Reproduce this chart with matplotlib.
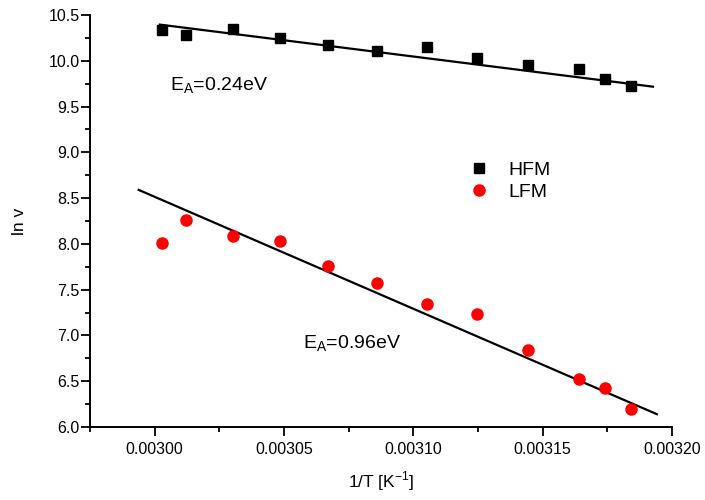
import matplotlib.pyplot as plt
import numpy as np
from matplotlib.ticker import MultipleLocator, FormatStrFormatter

plt.rcParams['font.family'] = ['Liberation Sans', 'DejaVu Sans']

# 1/T values (K^-1), T = 333 ... 314 K
inv_T = [0.0030027, 0.0030120, 0.0030301, 0.0030486, 0.0030672, 0.0030861,
         0.0031054, 0.0031247, 0.0031444, 0.0031641, 0.0031741, 0.0031842]
hfm = [10.34, 10.28, 10.35, 10.245, 10.17, 10.11, 10.15, 10.03, 9.955, 9.91, 9.805, 9.72]
lfm = [8.01, 8.265, 8.09, 8.035, 7.76, 7.575, 7.34, 7.235, 6.84, 6.525, 6.43, 6.195]

# fitted lines (end points)
hfm_fit_x = [0.0030020, 0.0031927]
hfm_fit_y = [10.395, 9.717]
lfm_fit_x = [0.0029938, 0.0031942]
lfm_fit_y = [8.59, 6.14]

fig = plt.figure(figsize=(7.05, 5.0), dpi=100)
ax = fig.add_axes([0.1277, 0.146, 0.8253, 0.824])

ax.plot(hfm_fit_x, hfm_fit_y, color='black', lw=1.6)
ax.plot(lfm_fit_x, lfm_fit_y, color='black', lw=1.6)
ax.plot(inv_T, hfm, 's', color='black', ms=7, label='HFM')
ax.plot(inv_T, lfm, 'o', color='red', ms=8, label='LFM')

ax.set_xlim(0.002975, 0.00320)
ax.set_ylim(6.0, 10.5)
ax.xaxis.set_major_locator(MultipleLocator(0.00005))
ax.xaxis.set_minor_locator(MultipleLocator(0.000025))
ax.yaxis.set_major_locator(MultipleLocator(0.5))
ax.yaxis.set_minor_locator(MultipleLocator(0.25))
ax.xaxis.set_major_formatter(FormatStrFormatter('%.5f'))
ax.yaxis.set_major_formatter(FormatStrFormatter('%.1f'))

for s in ['top', 'right']:
    ax.spines[s].set_visible(False)
for s in ['left', 'bottom']:
    ax.spines[s].set_linewidth(1.4)
ax.tick_params(which='major', direction='out', length=6.5, width=1.3, labelsize=11.5)
ax.tick_params(which='minor', direction='out', length=3.6, width=1.3)
ax.tick_params(axis='y', pad=1)
ax.tick_params(axis='x', pad=4)

ax.set_xlabel('1/T [K$^{\\mathregular{-1}}$]', fontsize=12.5, labelpad=9)
ax.set_ylabel('ln v', fontsize=12.5)
ax.yaxis.set_label_coords(-0.108, 0.5)

ax.text(0.0030059, 9.675, 'E$_{\\mathregular{A}}$=0.24eV', fontsize=14)
ax.text(0.0030572, 6.855, 'E$_{\\mathregular{A}}$=0.96eV', fontsize=14)

ax.legend(loc='upper left', bbox_to_anchor=(0.621, 0.687), frameon=False, fontsize=14,
          handletextpad=1.05, labelspacing=0.22, handlelength=1.0)

fig.savefig('out.png', dpi=100)
